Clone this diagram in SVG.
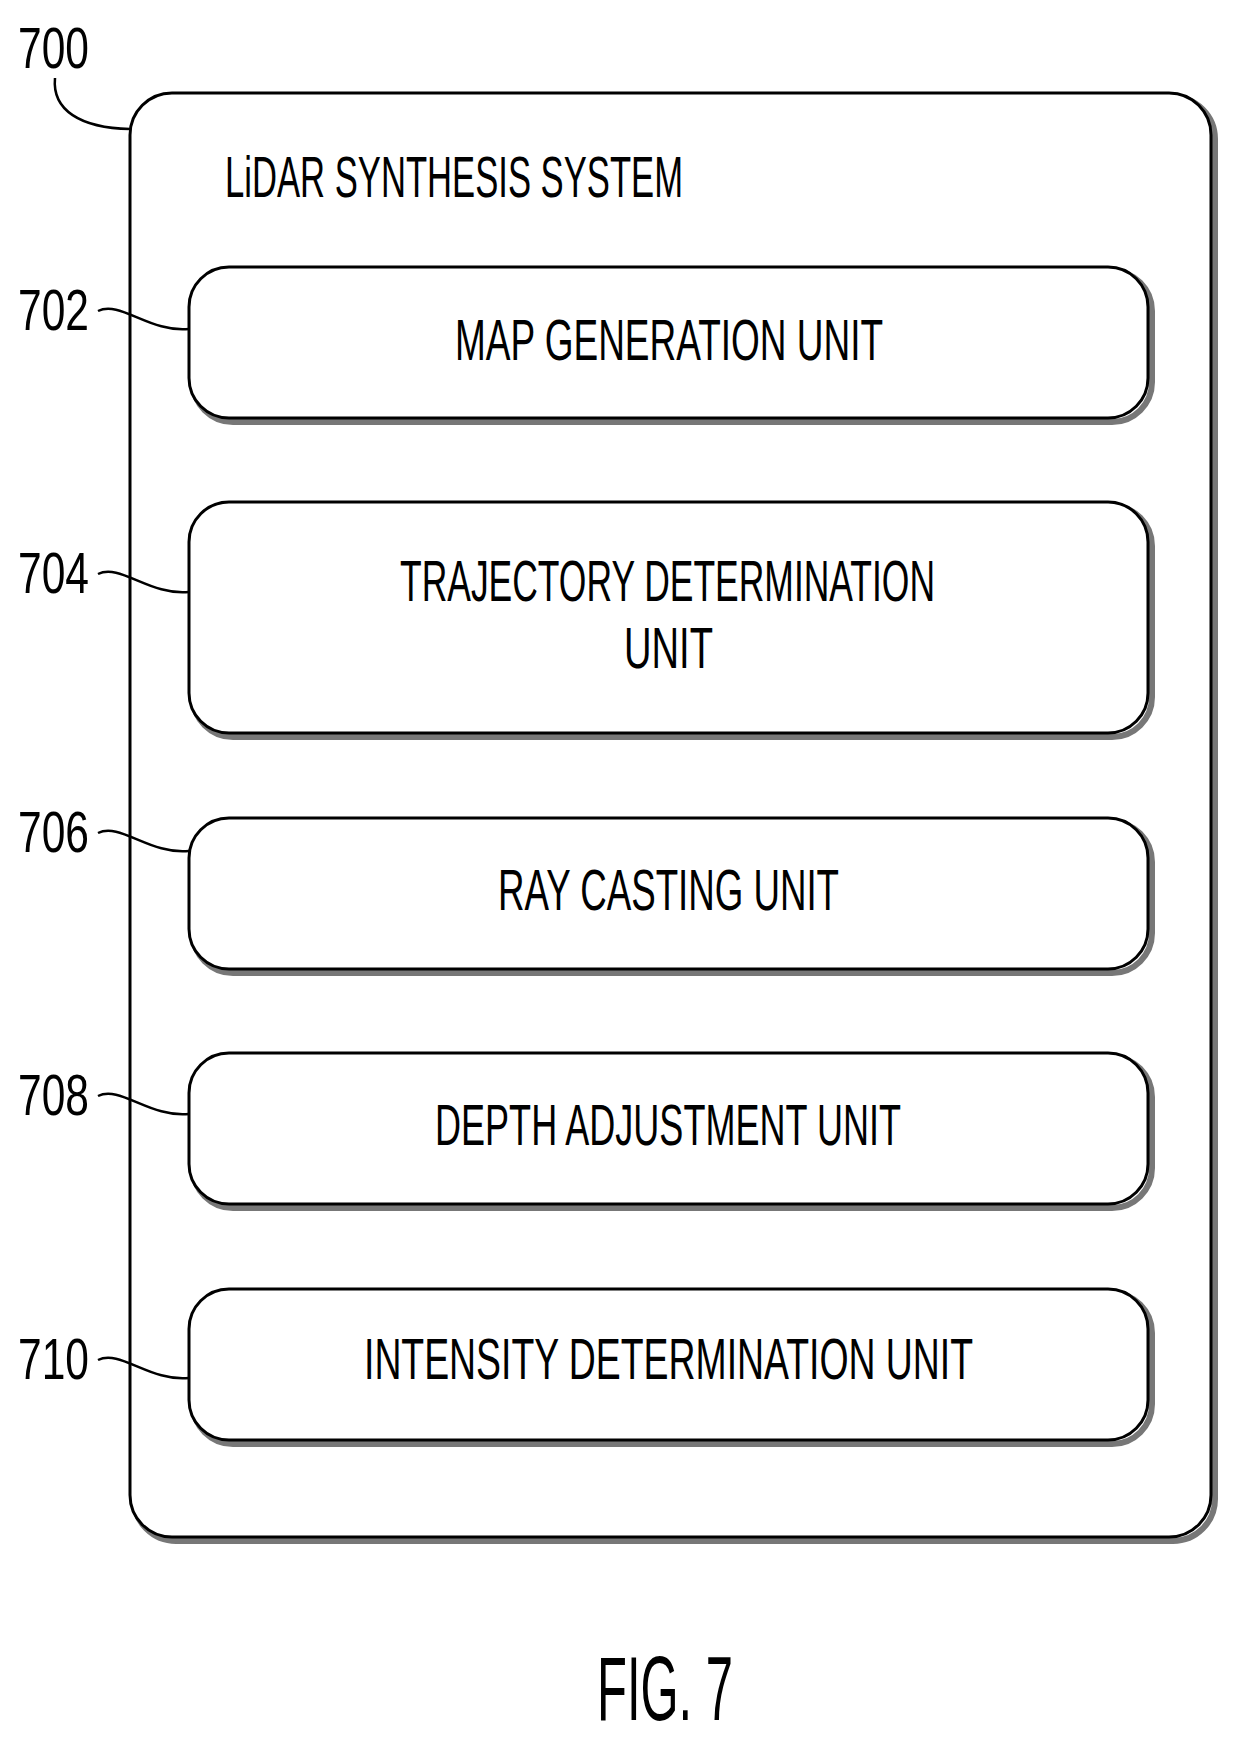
<svg xmlns="http://www.w3.org/2000/svg" width="1233" height="1741" viewBox="0 0 1233 1741">
<style>
.b{fill:#fff;stroke:#000;stroke-width:3}
.s{fill:none;stroke:#777;stroke-width:6}
.t{font-family:"Liberation Sans",Arial,sans-serif;font-size:58px;fill:#000}
.l{fill:none;stroke:#000;stroke-width:2.5}
</style>
<rect width="1233" height="1741" fill="#fff"/>
<g id="n700">
<rect class="s" x="134" y="97" width="1081" height="1444" rx="42"/>
<rect class="b" x="130" y="93" width="1081" height="1444" rx="42"/>
<text class="t" x="18" y="68" textLength="71" lengthAdjust="spacingAndGlyphs">700</text>
<text class="t" x="225" y="197" textLength="458" lengthAdjust="spacingAndGlyphs">LiDAR SYNTHESIS SYSTEM</text>
</g>
<g id="n702">
<rect class="s" x="193" y="271" width="959" height="151" rx="40"/>
<rect class="b" x="189" y="267" width="959" height="151" rx="40"/>
<text class="t" x="455" y="360" textLength="428" lengthAdjust="spacingAndGlyphs">MAP GENERATION UNIT</text>
<text class="t" x="18" y="330" textLength="71" lengthAdjust="spacingAndGlyphs">702</text>
</g>
<g id="n704">
<rect class="s" x="193" y="506" width="959" height="231" rx="40"/>
<rect class="b" x="189" y="502" width="959" height="231" rx="40"/>
<text class="t" x="400" y="601" textLength="535" lengthAdjust="spacingAndGlyphs">TRAJECTORY DETERMINATION</text>
<text class="t" x="624" y="668" textLength="89" lengthAdjust="spacingAndGlyphs">UNIT</text>
<text class="t" x="18" y="593" textLength="71" lengthAdjust="spacingAndGlyphs">704</text>
</g>
<g id="n706">
<rect class="s" x="193" y="822" width="959" height="151" rx="40"/>
<rect class="b" x="189" y="818" width="959" height="151" rx="40"/>
<text class="t" x="498" y="910" textLength="341" lengthAdjust="spacingAndGlyphs">RAY CASTING UNIT</text>
<text class="t" x="18" y="852" textLength="71" lengthAdjust="spacingAndGlyphs">706</text>
</g>
<g id="n708">
<rect class="s" x="193" y="1057" width="959" height="151" rx="40"/>
<rect class="b" x="189" y="1053" width="959" height="151" rx="40"/>
<text class="t" x="435" y="1145" textLength="466" lengthAdjust="spacingAndGlyphs">DEPTH ADJUSTMENT UNIT</text>
<text class="t" x="18" y="1115" textLength="71" lengthAdjust="spacingAndGlyphs">708</text>
</g>
<g id="n710">
<rect class="s" x="193" y="1293" width="959" height="151" rx="40"/>
<rect class="b" x="189" y="1289" width="959" height="151" rx="40"/>
<text class="t" x="364" y="1379" textLength="609" lengthAdjust="spacingAndGlyphs">INTENSITY DETERMINATION UNIT</text>
<text class="t" x="18" y="1379" textLength="71" lengthAdjust="spacingAndGlyphs">710</text>
</g>
<g id="connectors">
<path class="l" d="M55 78 C52 110,80 128,130 129"/>
<path class="l" d="M98 311 C120 300,150 333,189 329"/>
<path class="l" d="M98 574 C120 563,150 596,189 592"/>
<path class="l" d="M98 833 C120 822,150 855,189 851"/>
<path class="l" d="M98 1096 C120 1085,150 1118,189 1114"/>
<path class="l" d="M98 1360 C120 1349,150 1382,189 1378"/>
</g>
<text class="t" x="597" y="1720" style="font-size:90px" textLength="136" lengthAdjust="spacingAndGlyphs">FIG. 7</text>
</svg>
